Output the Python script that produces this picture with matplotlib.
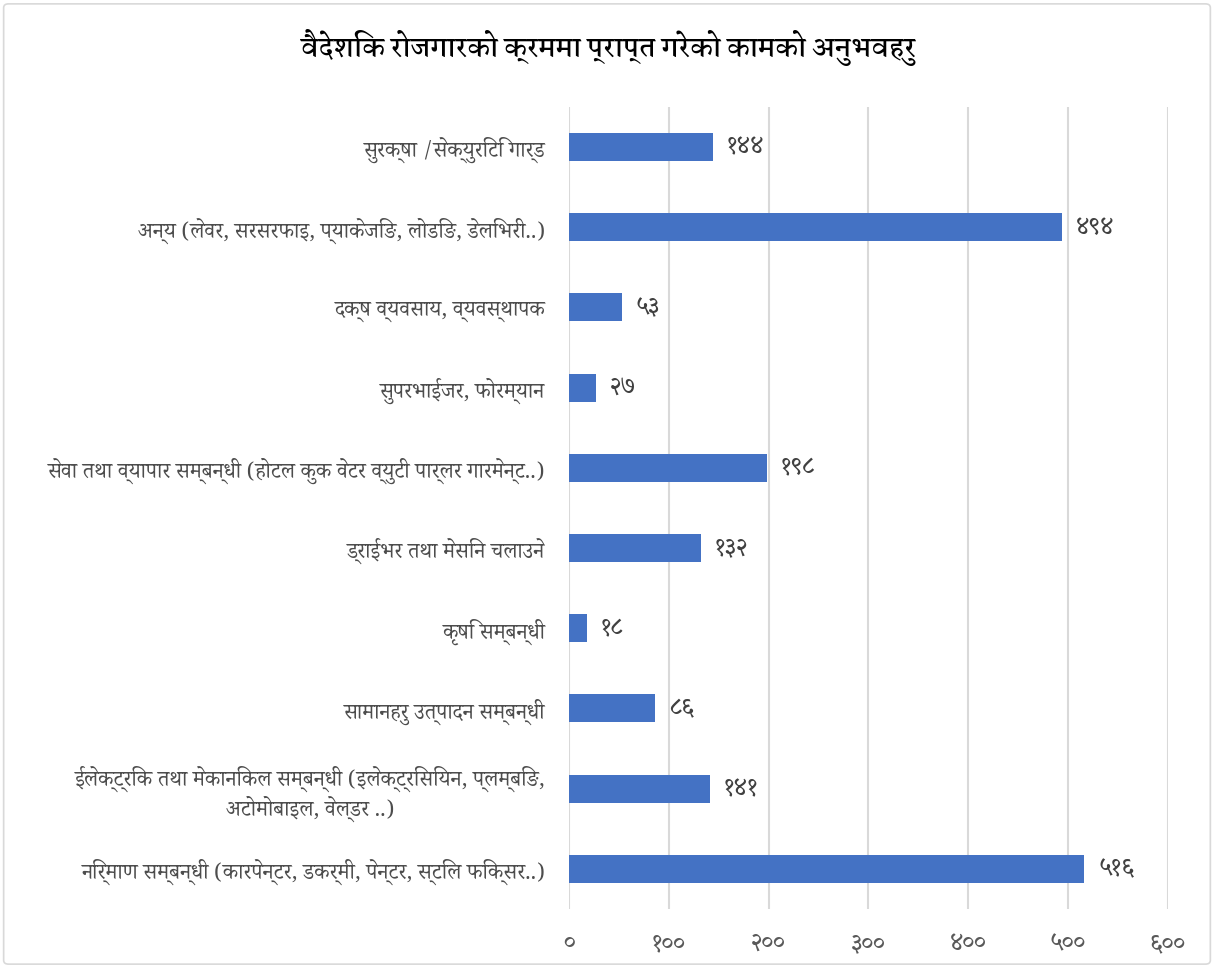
import matplotlib
matplotlib.use("Agg")
import matplotlib.pyplot as plt
from matplotlib.patches import FancyBboxPatch

plt.rcParams["font.family"] = ["Noto Serif Devanagari", "DejaVu Sans"]

title = "वैदेशिक रोजगारको क्रममा प्राप्त गरेको कामको अनुभवहरु"

# top to bottom as in the reference
categories = [
    "सुरक्षा /सेक्युरिटि गार्ड",
    "अन्य (लेवर, सरसरफाइ, प्याकेजिङ, लोडिङ, डेलिभरी..)",
    "दक्ष व्यवसाय, व्यवस्थापक",
    "सुपरभाईजर, फोरम्यान",
    "सेवा तथा व्यापार सम्बन्धी (होटल कुक वेटर व्युटी पार्लर गारमेन्ट..)",
    "ड्राईभर तथा मेसिन चलाउने",
    "कृषि सम्बन्धी",
    "सामानहरु उत्पादन सम्बन्धी",
    "ईलेक्ट्रिक तथा मेकानिकल सम्बन्धी (इलेक्ट्रिसियन, प्लम्बिङ,\nअटोमोबाइल, वेल्डर ..)",
    "निर्माण सम्बन्धी (कारपेन्टर, डकर्मी, पेन्टर, स्टिल फिक्सर..)",
]
values = [144, 494, 53, 27, 198, 132, 18, 86, 141, 516]

x_ticks = [0, 100, 200, 300, 400, 500, 600]
x_tick_labels = ["०", "१००", "२००", "३००", "४००", "५००", "६००"]

DEV_DIGITS = str.maketrans("0123456789", "०१२३४५६७८९")

fig = plt.figure(figsize=(12.14, 9.68), dpi=100)
ax = fig.add_axes([0.4687, 0.061, 0.4933, 0.8285])

y = list(range(len(categories)))
ax.barh(y, values, height=0.35, color="#4472C4", zorder=3)

for yi, v in zip(y, values):
    ax.text(v + 14, yi, str(v).translate(DEV_DIGITS), va="center", ha="left",
            fontsize=18, color="#404040")

ax.set_yticks(y)
ax.set_yticklabels(categories, fontsize=15.5, color="#4d4d4d", multialignment="center")
ax.set_ylim(len(categories) - 0.5, -0.5)

ax.set_xlim(0, 600)
ax.set_xticks(x_ticks)
ax.set_xticklabels(x_tick_labels, fontsize=18, color="#595959")
ax.tick_params(axis="both", length=0)
ax.tick_params(axis="x", pad=16)
ax.tick_params(axis="y", pad=17)

ax.grid(axis="x", color="#d9d9d9", linewidth=1.5, zorder=0)
for s in ax.spines.values():
    s.set_visible(False)

fig.text(0.501, 0.951, title, ha="center", va="center", fontsize=19,
         fontweight="bold", color="black", family=["Martel", "DejaVu Sans"])

border = FancyBboxPatch((0.003, 0.004), 0.994, 0.992, transform=fig.transFigure,
                        boxstyle="round,pad=0,rounding_size=0.004",
                        fill=False, edgecolor="#d9d9d9", linewidth=1.2)
fig.patches.append(border)

fig.savefig("out.png")
